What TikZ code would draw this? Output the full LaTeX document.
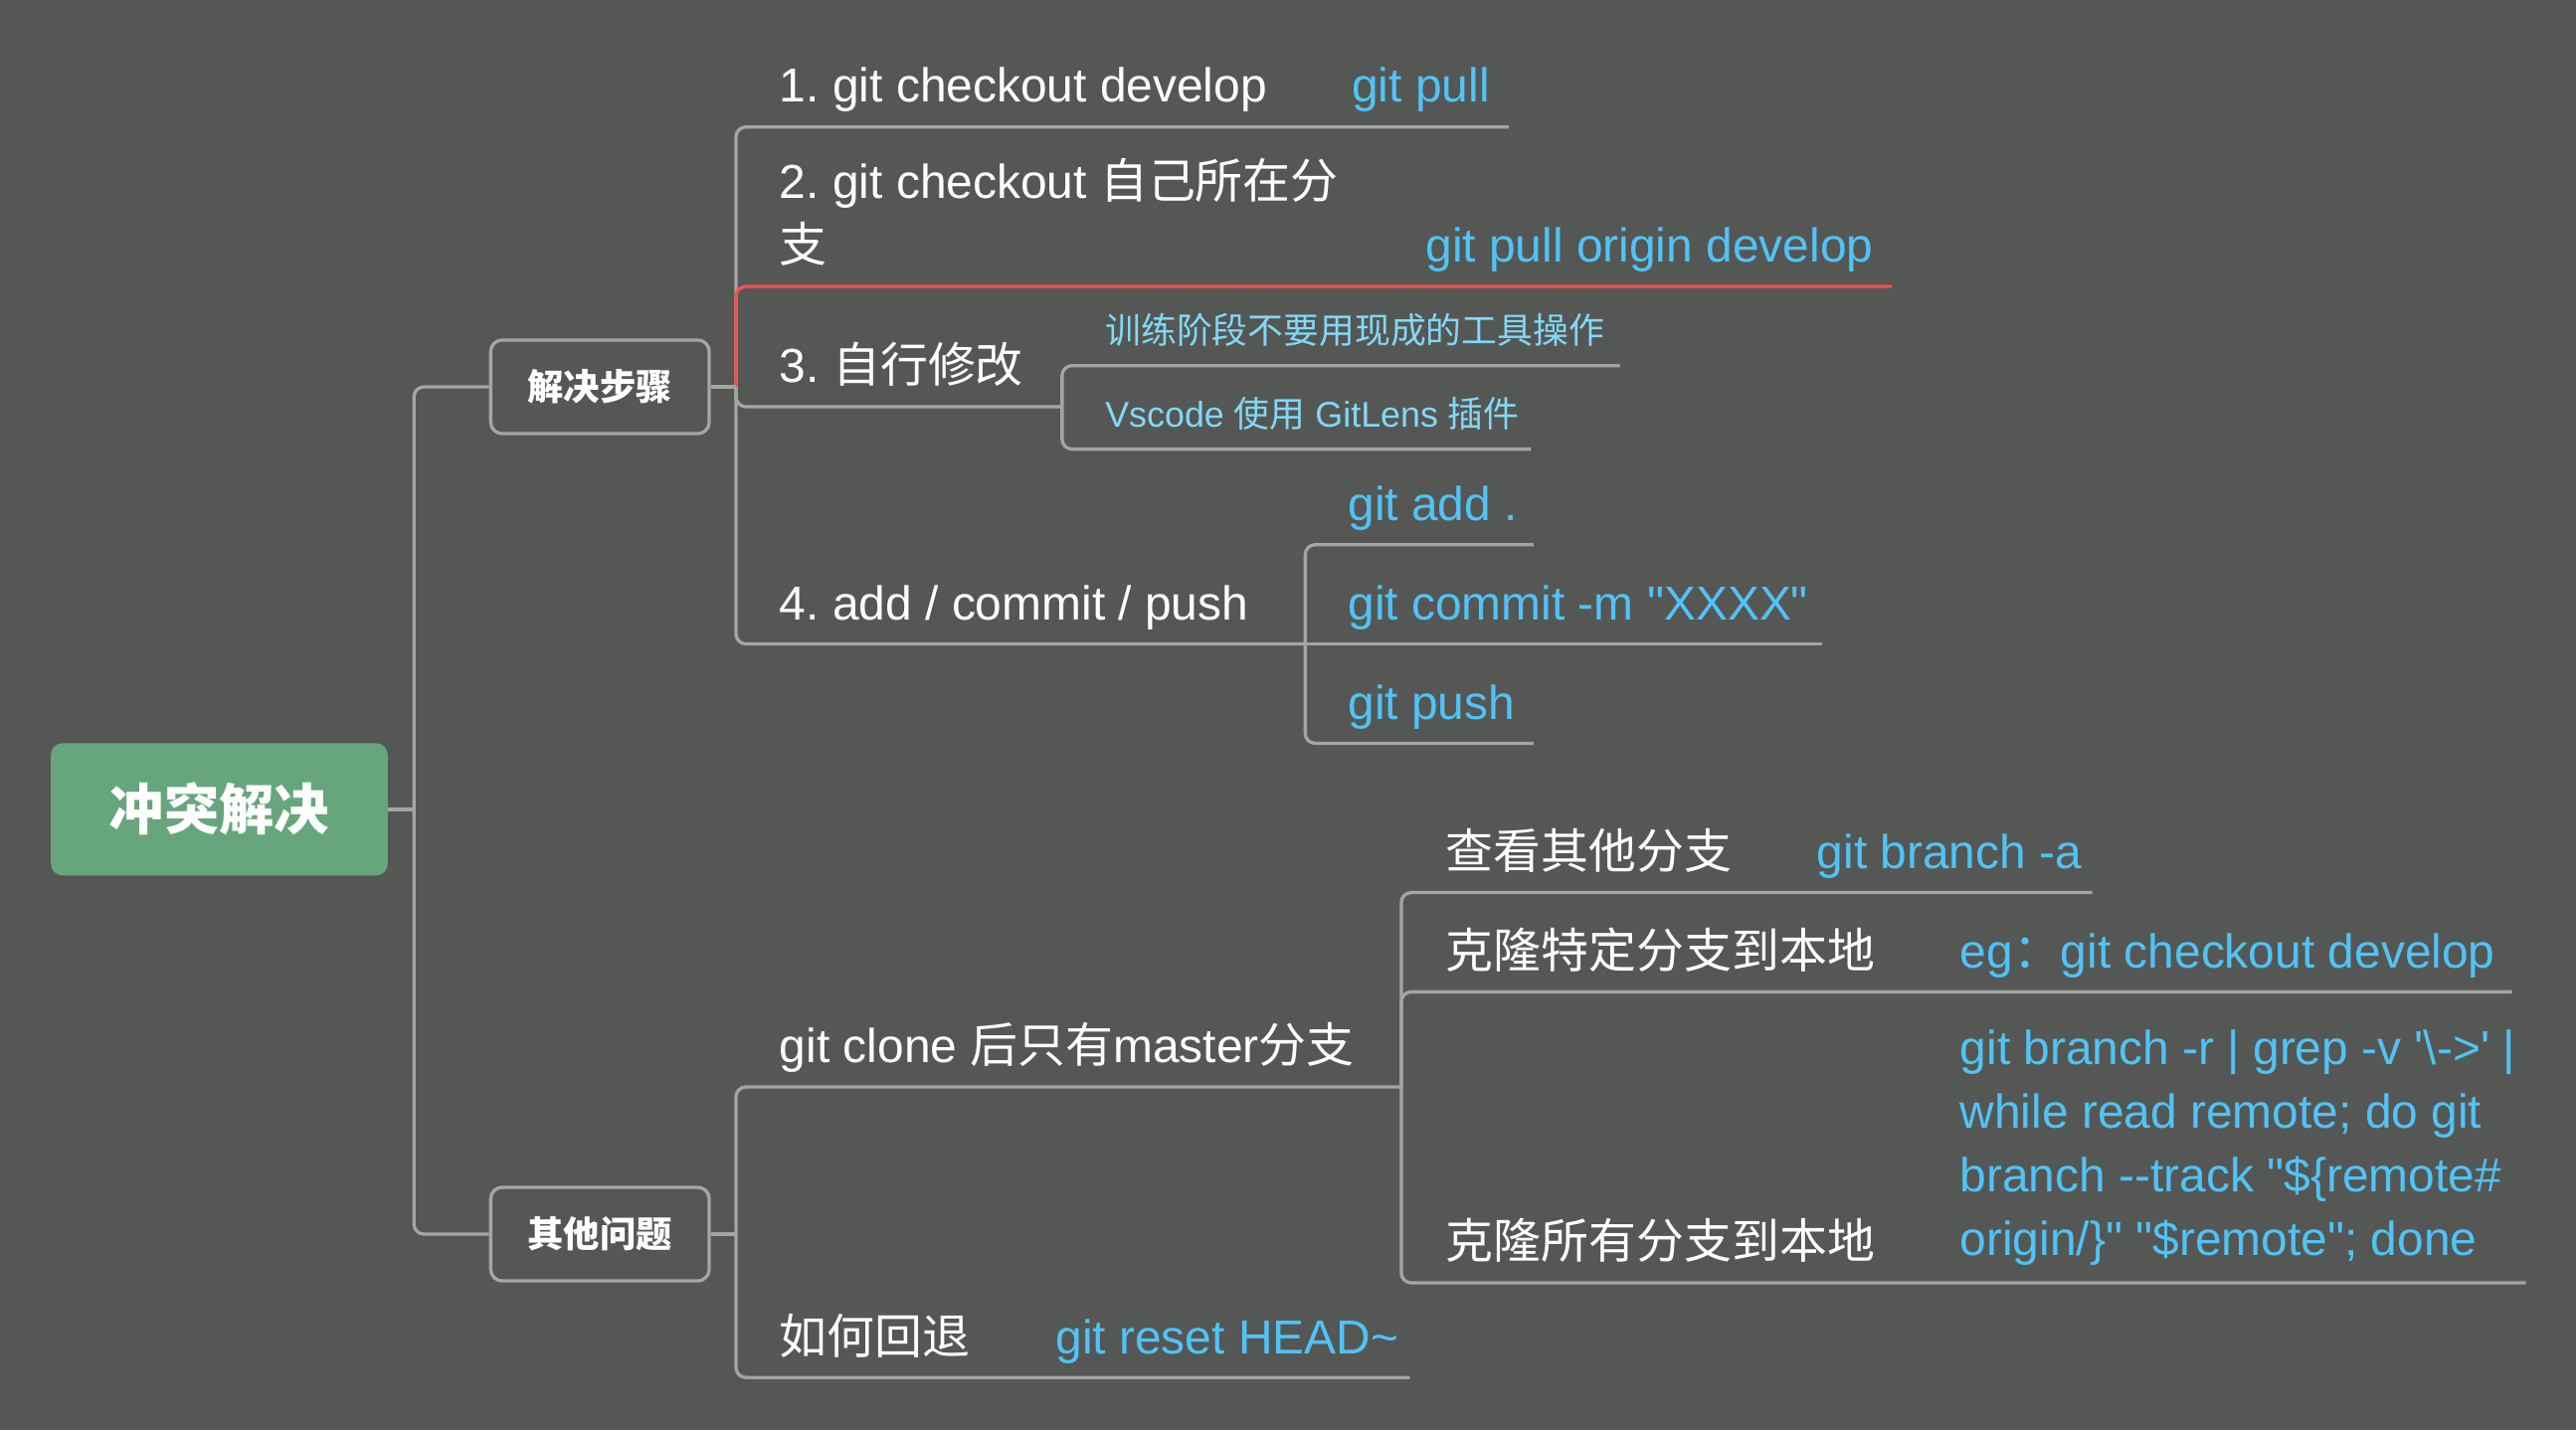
\documentclass[tikz,border=0pt]{standalone}
\usepackage{fontspec}
\setmainfont{Liberation Sans}[Ligatures=TeXOff]
\newfontfamily\cjk{Noto Sans CJK SC}
\frenchspacing
\definecolor{bgc}{RGB}{85,87,84}
\definecolor{lnc}{RGB}{165,166,162}
\definecolor{grn}{RGB}{103,166,124}
\definecolor{blu}{RGB}{80,195,247}
\definecolor{lblu}{RGB}{130,216,247}
\definecolor{redc}{RGB}{240,82,82}
\newcommand{\mlines}[1]{\begin{tabular}[t]{@{}l@{}}#1\end{tabular}}
\tikzset{
  ln/.style={draw=lnc, line width=2pt, rounded corners=6pt},
  redln/.style={draw=redc, line width=2pt, rounded corners=6pt},
  txt/.style={anchor=base west, inner sep=0pt, text=white, font=\frenchspacing\fontsize{29}{38.8}\selectfont},
  btxt/.style={txt, text=blu},
  stxt/.style={anchor=base west, inner sep=0pt, text=lblu, font=\fontsize{21.7}{26}\selectfont},
  rootbox/.style={fill=grn, rounded corners=7pt, minimum width=205pt, minimum height=80.5pt, inner sep=0pt, text=white, font=\cjk\bfseries\fontsize{33.5}{40}\selectfont},
  subbox/.style={draw=lnc, line width=2pt, fill=bgc, rounded corners=7pt, minimum width=133pt, minimum height=57pt, inner sep=0pt, text=white, font=\cjk\bfseries\fontsize{22}{26}\selectfont}
}
\begin{document}
\begin{tikzpicture}[x=1pt,y=-1pt]
\fill[bgc] (0,0) rectangle (1568,870.6);
\useasboundingbox (0,0) rectangle (1568,870.6);

% coordinates
\coordinate (jr) at (252,492.7);
\coordinate (j1) at (448,235.5);
\coordinate (j2) at (448,751.3);
\coordinate (u1) at (918.5,77.3);
\coordinate (u2) at (1151.5,174.4);
\coordinate (j3) at (646.5,247.6);
\coordinate (u3a) at (986,222.6);
\coordinate (u3b) at (932,273.4);
\coordinate (j4) at (794.5,392);
\coordinate (u4a) at (933.5,331.6);
\coordinate (u4b) at (1109,392);
\coordinate (u4c) at (933.5,452.5);
\coordinate (j5) at (853,661.7);
\coordinate (u5a) at (1273.5,543.4);
\coordinate (u5b) at (1529,603.8);
\coordinate (u5c) at (1537.5,781);
\coordinate (u6) at (858,838.6);

% connectors
\draw[ln] (j1) |- (u1);
\draw[ln] (j1) |- (j3);
\draw[ln] (j3) |- (u3a);
\draw[ln] (j3) |- (u3b);
\draw[ln] (j1) |- (j4);
\draw[ln] (j4) |- (u4a);
\draw[ln] (j4) -- (u4b);
\draw[ln] (j4) |- (u4c);
\draw[ln] (j2) |- (j5);
\draw[ln] (j5) |- (u5a);
\draw[ln] (j5) |- (u5b);
\draw[ln] (j5) |- (u5c);
\draw[ln] (j2) |- (u6);
\draw[redln] (j1) |- (u2);

% boxes
\node[rootbox] (root) at (133.5,492.7) {冲突解决};
\node[subbox] (b1) at (365.2,235.5) {解决步骤};
\node[subbox] (b2) at (365.2,751.3) {其他问题};
\draw[ln] (root.east) -- (jr);
\draw[ln] (jr) |- (b1.west);
\draw[ln] (jr) |- (b2.west);
\draw[ln] (b1.east) -- (j1);
\draw[ln] (b2.east) -- (j2);

% texts
\node[txt] (t1) at (474.4,62.3) {1. git checkout develop};
\node[btxt] (t1b) at (822.7,62.3) {git pull};
\node[txt] (t2) at (474.4,121) {\mlines{2. git checkout {\cjk 自己所在分}\\{\cjk 支}}};
\node[btxt] (t2b) at (867.6,159.6) {git pull origin develop};
\node[txt] (t3) at (474.4,233) {3. {\cjk 自行修改}};
\node[stxt] (t3a) at (672.6,209.3) {\cjk 训练阶段不要用现成的工具操作};
\node[stxt] (t3b) at (672.6,260) {Vscode {\cjk 使用} GitLens {\cjk 插件}};
\node[txt] (t4) at (474.4,377.3) {4. add / commit / push};
\node[btxt] (t4a) at (820.4,317) {git add .};
\node[btxt] (t4b) at (820.4,377.3) {git commit -m "XXXX"};
\node[btxt] (t4c) at (820.4,437.8) {git push};
\node[txt] (t5) at (474.4,647) {git clone {\cjk 后只有}master{\cjk 分支}};
\node[txt] (t5a) at (880,528.7) {\cjk 查看其他分支};
\node[btxt] (t5ab) at (1105.7,528.7) {git branch -a};
\node[txt] (t5b) at (880,589.1) {\cjk 克隆特定分支到本地};
\node[btxt] (t5bb) at (1192.9,589.1) {eg{\cjk ：}git checkout develop};
\node[txt] (t5c) at (880,766) {\cjk 克隆所有分支到本地};
\node[btxt] (t5cb) at (1192.9,648) {\mlines{git branch -r | grep -v '\textbackslash->' |\\while read remote; do git\\branch --track "\$\{remote\#\\origin/\}" "\$remote"; done}};
\node[txt] (t6) at (474.4,824) {\cjk 如何回退};
\node[btxt] (t6b) at (642.4,824) {git reset HEAD\textasciitilde};
\end{tikzpicture}
\end{document}
